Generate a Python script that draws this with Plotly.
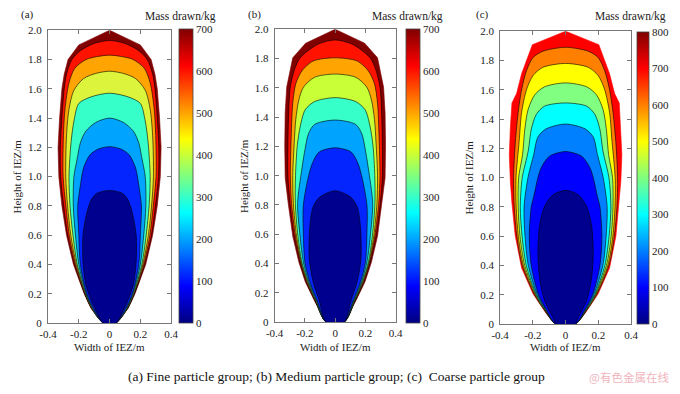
import plotly.graph_objects as go

# ---------------- data ----------------
# each boundary: list of [height (m), half-width (m)] from bottom to apex
# listed from the outer (highest mass) boundary to the inner (lowest mass)
FINE_BOUNDS = [
    [[0, 0.04], [0.1, 0.12], [0.2, 0.165], [0.4, 0.235], [0.6, 0.28], [0.8, 0.31], [1.0, 0.33], [1.2, 0.335],
     [1.4, 0.325], [1.6, 0.31], [1.7, 0.295], [1.8, 0.27], [1.9, 0.2], [2.0, 0]],
    [[0, 0.04], [0.1, 0.118], [0.2, 0.162], [0.4, 0.228], [0.6, 0.272], [0.8, 0.298], [1.0, 0.318], [1.2, 0.32],
     [1.4, 0.31], [1.6, 0.295], [1.7, 0.28], [1.8, 0.245], [1.86, 0.19], [1.91, 0.1], [1.93, 0]],
    [[0, 0.04], [0.1, 0.116], [0.2, 0.16], [0.4, 0.222], [0.6, 0.262], [0.8, 0.284], [1.0, 0.302], [1.28, 0.30],
     [1.46, 0.29], [1.64, 0.264], [1.74, 0.226], [1.80, 0.153], [1.82, 0.08], [1.83, 0]],
    [[0, 0.04], [0.1, 0.114], [0.2, 0.158], [0.4, 0.216], [0.6, 0.252], [0.8, 0.273], [1.0, 0.285], [1.28, 0.28],
     [1.46, 0.264], [1.59, 0.232], [1.67, 0.169], [1.705, 0.09], [1.72, 0]],
    [[0, 0.04], [0.1, 0.112], [0.2, 0.155], [0.4, 0.21], [0.6, 0.238], [0.8, 0.257], [1.0, 0.264], [1.24, 0.25],
     [1.39, 0.23], [1.50, 0.2], [1.545, 0.12], [1.57, 0]],
    [[0, 0.04], [0.1, 0.11], [0.2, 0.152], [0.4, 0.2], [0.6, 0.222], [0.8, 0.236], [1.0, 0.232], [1.12, 0.211],
     [1.23, 0.19], [1.31, 0.155], [1.37, 0.09], [1.40, 0]],
    [[0, 0.04], [0.1, 0.105], [0.2, 0.148], [0.4, 0.19], [0.6, 0.2], [0.8, 0.207], [0.94, 0.19], [1.06, 0.169],
     [1.15, 0.127], [1.19, 0.07], [1.205, 0]],
    [[0, 0.043], [0.066, 0.08], [0.155, 0.12], [0.265, 0.155], [0.42, 0.173], [0.6, 0.173], [0.752, 0.148],
     [0.84, 0.12], [0.885, 0.085], [0.906, 0]],
]
MEDIUM_BOUNDS = [
    [[0, 0.06], [0.144, 0.136], [0.277, 0.198], [0.41, 0.24], [0.587, 0.28], [0.81, 0.31], [0.985, 0.33],
     [1.207, 0.333], [1.43, 0.33], [1.605, 0.32], [1.805, 0.28], [1.905, 0.195], [2.0, 0]],
    [[0, 0.06], [0.144, 0.132], [0.277, 0.192], [0.41, 0.232], [0.587, 0.27], [0.81, 0.298], [1.0, 0.312],
     [1.2, 0.312], [1.4, 0.308], [1.6, 0.297], [1.72, 0.27], [1.80, 0.235], [1.845, 0.19], [1.90, 0.11], [1.927, 0]],
    [[0, 0.06], [0.144, 0.13], [0.277, 0.188], [0.41, 0.228], [0.587, 0.262], [0.81, 0.288], [1.0, 0.296],
     [1.27, 0.29], [1.495, 0.28], [1.628, 0.26], [1.716, 0.219], [1.783, 0.146], [1.805, 0]],
    [[0, 0.06], [0.144, 0.128], [0.277, 0.184], [0.41, 0.224], [0.587, 0.255], [0.81, 0.276], [1.0, 0.28],
     [1.229, 0.27], [1.384, 0.26], [1.517, 0.24], [1.605, 0.209], [1.672, 0.136], [1.694, 0]],
    [[0, 0.06], [0.144, 0.126], [0.277, 0.18], [0.41, 0.22], [0.587, 0.246], [0.81, 0.263], [1.0, 0.262],
     [1.207, 0.25], [1.34, 0.23], [1.45, 0.198], [1.506, 0.136], [1.533, 0]],
    [[0, 0.06], [0.144, 0.122], [0.277, 0.175], [0.41, 0.21], [0.587, 0.232], [0.81, 0.248], [1.052, 0.219],
     [1.185, 0.198], [1.284, 0.177], [1.35, 0.136], [1.38, 0]],
    [[0, 0.06], [0.144, 0.118], [0.277, 0.168], [0.41, 0.2], [0.6, 0.21], [0.8, 0.21], [1.0, 0.175],
     [1.096, 0.146], [1.163, 0.104], [1.19, 0]],
    [[0, 0.06], [0.144, 0.104], [0.277, 0.146], [0.432, 0.171], [0.653, 0.167], [0.786, 0.146], [0.852, 0.104],
     [0.897, 0]],
]
COARSE_BOUNDS = [
    [[0, 0.06], [0.073, 0.119], [0.206, 0.199], [0.383, 0.269], [0.603, 0.308], [0.825, 0.328], [0.98, 0.338],
     [1.157, 0.344], [1.335, 0.338], [1.51, 0.328], [1.576, 0.299], [1.709, 0.269], [1.908, 0.203], [2.0, 0]],
    [[0, 0.06], [0.1, 0.133], [0.2, 0.19], [0.4, 0.265], [0.6, 0.298], [0.8, 0.314], [1.0, 0.318], [1.245, 0.307],
     [1.444, 0.29], [1.6, 0.269], [1.73, 0.239], [1.82, 0.199], [1.863, 0.139], [1.89, 0]],
    [[0, 0.06], [0.1, 0.13], [0.2, 0.186], [0.4, 0.258], [0.6, 0.289], [0.8, 0.302], [1.0, 0.303], [1.245, 0.284],
     [1.444, 0.269], [1.6, 0.239], [1.697, 0.199], [1.753, 0.139], [1.78, 0]],
    [[0, 0.06], [0.1, 0.128], [0.2, 0.182], [0.4, 0.25], [0.6, 0.279], [0.8, 0.29], [1.0, 0.287], [1.157, 0.263],
     [1.333, 0.249], [1.465, 0.229], [1.565, 0.189], [1.62, 0.129], [1.647, 0]],
    [[0, 0.06], [0.1, 0.126], [0.2, 0.178], [0.4, 0.24], [0.6, 0.266], [0.8, 0.277], [1.0, 0.265], [1.178, 0.229],
     [1.333, 0.209], [1.432, 0.179], [1.488, 0.129], [1.51, 0]],
    [[0, 0.06], [0.1, 0.122], [0.2, 0.172], [0.4, 0.228], [0.6, 0.248], [0.8, 0.254], [1.0, 0.23], [1.157, 0.195],
     [1.278, 0.169], [1.333, 0.119], [1.366, 0]],
    [[0, 0.06], [0.1, 0.118], [0.2, 0.165], [0.4, 0.21], [0.6, 0.222], [0.8, 0.21], [0.869, 0.195], [1.001, 0.169],
     [1.068, 0.149], [1.145, 0.1], [1.178, 0]],
    [[0, 0.055], [0.051, 0.08], [0.162, 0.129], [0.316, 0.159], [0.493, 0.169], [0.67, 0.159], [0.802, 0.129],
     [0.88, 0.08], [0.913, 0]],
]

FINE_COLORS = ["#800000", "#ff1200", "#ffa400", "#dcf53c", "#36ffc9", "#00a4ff", "#0525ff", "#00008f"]
MEDIUM_COLORS = ["#800000", "#ff1200", "#ffa400", "#c9ff36", "#36ffc9", "#00a4ff", "#0525ff", "#00008f"]
COARSE_COLORS = ["#ff0000", "#ff8000", "#ffff00", "#80ff80", "#00ffff", "#0080ff", "#0000ff", "#00008f"]

CBAR_MAX = [700, 700, 800]
CBAR_TICKS = [list(range(0, 701, 100)), list(range(0, 701, 100)), list(range(0, 801, 100))]
X_TICKS = [-0.4, -0.2, 0, 0.2, 0.4]
X_TICKTEXT = ["-0.4", "-0.2", "0", "0.2", "0.4"]
Y_TICKS = [0, 0.2, 0.4, 0.6, 0.8, 1.0, 1.2, 1.4, 1.6, 1.8, 2.0]
Y_TICKTEXT = ["0", "0.2", "0.4", "0.6", "0.8", "1.0", "1.2", "1.4", "1.6", "1.8", "2.0"]
PANEL_LABELS = ["(a)", "(b)", "(c)"]
CAPTION = "(a) Fine particle group; (b) Medium particle group; (c)  Coarse particle group"
WATERMARK = "@有色金属在线"

JET = [[0, "#000080"], [0.125, "#0000ff"], [0.375, "#00ffff"], [0.625, "#ffff00"], [0.875, "#ff0000"],
       [1, "#800000"]]

# ---------------- layout geometry (pixels) ----------------
W, H = 680, 394
SERIF = "Liberation Serif"
# plot boxes: (left, right, top, bottom)
BOXES = [(40, 166, 25, 327), (272, 396, 24, 326), (503, 637, 26, 328)]
# colorbars: (left, width, top, bottom)
CBARS = [(174, 14, 24, 327), (407, 14, 24, 327), (643, 12, 27, 328)]
TITLE_RIGHT = [214, 447, 675]
LABEL_LEFT = [10, 243, 476]
YTITLE_X = [8, 240, 471]


def fx(p):
    return p / W


def fy(p):
    return 1 - p / H


def polygon(bound):
    ys = [p[0] for p in bound]
    ws = [p[1] for p in bound]
    xs = ws + [-w for w in reversed(ws[:-1])]
    yy = ys + list(reversed(ys[:-1]))
    xs.append(xs[0])
    yy.append(yy[0])
    return xs, yy


fig = go.Figure()
layout = dict(
    width=W, height=H, margin=dict(l=0, r=0, t=0, b=0),
    paper_bgcolor="white", plot_bgcolor="white", showlegend=False,
    font=dict(family=SERIF, size=11, color="#222"),
)
annotations = []

panels = [(FINE_BOUNDS, FINE_COLORS), (MEDIUM_BOUNDS, MEDIUM_COLORS), (COARSE_BOUNDS, COARSE_COLORS)]
for i, (bounds, colors) in enumerate(panels):
    sfx = "" if i == 0 else str(i + 1)
    xa, ya = "x" + sfx, "y" + sfx
    for k, (b, c) in enumerate(zip(bounds, colors)):
        xs, yy = polygon(b)
        outer = k == 0
        fig.add_trace(go.Scatter(
            x=xs, y=yy, mode="lines", fill="toself", fillcolor=c,
            line=dict(color=c if outer else "black", width=0.6,
                      shape="linear" if outer else "spline", smoothing=0.8),
            xaxis=xa, yaxis=ya, hoverinfo="skip"))
    # colour bar
    cl, cw, ct, cb = CBARS[i]
    fig.add_trace(go.Scatter(
        x=[0], y=[-5], mode="markers", xaxis=xa, yaxis=ya, hoverinfo="skip",
        marker=dict(size=1, color=[0], cmin=0, cmax=CBAR_MAX[i], colorscale=JET, showscale=True,
                    colorbar=dict(x=fx(cl), xanchor="left", y=fy((ct + cb) / 2), yanchor="middle",
                                  len=(cb - ct) / H, lenmode="fraction", thickness=cw,
                                  xpad=0, ypad=0, outlinewidth=0.8, outlinecolor="#444",
                                  tickvals=CBAR_TICKS[i], ticks="", ticklabelposition="outside",
                                  tickfont=dict(family=SERIF, size=11, color="#222")))))
    l, r, t, b_ = BOXES[i]
    axis_common = dict(showline=True, linecolor="#777", linewidth=1, mirror="ticks", ticks="inside",
                       ticklen=4, tickcolor="#777", showgrid=False, zeroline=False,
                       tickfont=dict(family=SERIF, size=11, color="#222"))
    layout["xaxis" + sfx] = dict(domain=[fx(l), fx(r)], range=[-0.4, 0.4], anchor=ya,
                                 tickvals=X_TICKS, ticktext=X_TICKTEXT, ticklabelstandoff=1, **axis_common)
    layout["yaxis" + sfx] = dict(domain=[fy(b_), fy(t)], range=[0, 2.0], anchor=xa,
                                 tickvals=Y_TICKS, ticktext=Y_TICKTEXT, ticklabelstandoff=3, **axis_common)
    # texts
    annotations.append(dict(text=PANEL_LABELS[i], x=fx(LABEL_LEFT[i]), y=fy(9), xref="paper", yref="paper",
                            xanchor="left", yanchor="middle", showarrow=False, font=dict(size=11)))
    annotations.append(dict(text="Mass drawn/kg", x=fx(TITLE_RIGHT[i]), y=fy(11), xref="paper", yref="paper",
                            xanchor="right", yanchor="middle", showarrow=False, font=dict(size=11.5)))
    annotations.append(dict(text="Width of IEZ/m", x=fx((l + r) / 2), y=fy(352), xref="paper", yref="paper",
                            xanchor="center", yanchor="middle", showarrow=False, font=dict(size=11)))
    annotations.append(dict(text="Height of IEZ/m", x=fx(YTITLE_X[i]), y=fy((t + b_) / 2), xref="paper",
                            yref="paper", xanchor="center", yanchor="middle", textangle=-90,
                            showarrow=False, font=dict(size=11)))

annotations.append(dict(text=CAPTION, x=fx(335), y=fy(382), xref="paper", yref="paper", xanchor="center",
                        yanchor="middle", showarrow=False, font=dict(size=13.5, color="#111")))
annotations.append(dict(text=WATERMARK, x=fx(678), y=fy(383), xref="paper", yref="paper", xanchor="right",
                        yanchor="middle", showarrow=False,
                        font=dict(family="Noto Sans CJK SC", size=11.5, color="#f0b4bc")))
layout["annotations"] = annotations
fig.update_layout(**layout)
fig.write_html("out.html", config={"displayModeBar": False},
               post_script="document.body.style.margin='0';")
